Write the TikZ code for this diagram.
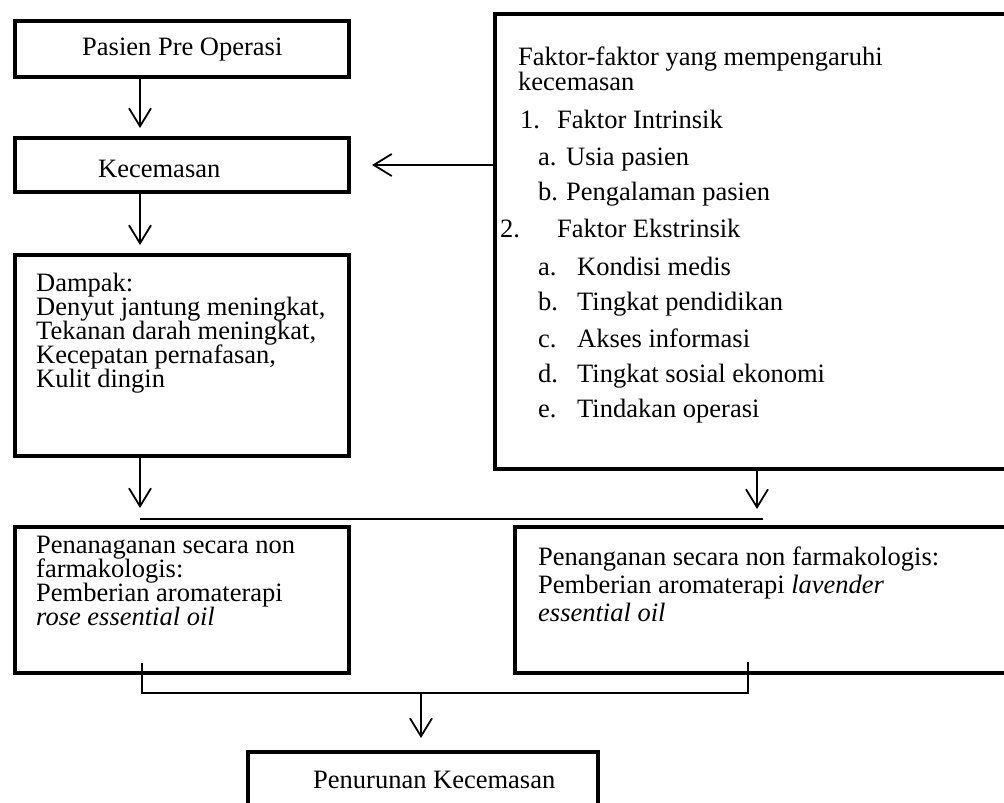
\documentclass[tikz,border=0pt]{standalone}
\usepackage{fontspec}
\setmainfont{Liberation Serif}
\usetikzlibrary{arrows.meta}
\newcommand{\boxtext}[2]{\parbox[t]{460pt}{\baselineskip=#1\lineskiplimit=-40pt\relax #2}}

\begin{document}
\begin{tikzpicture} [x=1pt, y=-1pt,
  box/.style={rectangle, draw, line width=4.5pt, inner sep=0pt, outer sep=0pt, anchor=north west},
  txt/.style={anchor=base west, inner sep=0pt, font=\fontsize{26.5}{24}\selectfont},
  arr/.style={-{Straight Barb[length=18pt,width=22pt]}, line width=1.8pt},
  conn/.style={line width=1.8pt}]
  \useasboundingbox (0,0) rectangle (1004,803);
  \clip (0,0) rectangle (1004,803);
  %% Boxes
  \node [box, minimum width=334pt, minimum height=56pt] (pasien) at (15,21) {};
  \node [box, minimum width=334pt, minimum height=54pt] (cemas) at (15,138) {};
  \node [box, minimum width=334pt, minimum height=201pt] (dampak) at (15,255) {};
  \node [box, minimum width=520pt, minimum height=455pt] (faktor) at (495,14) {};
  \node [box, minimum width=334pt, minimum height=146pt] (rose) at (15,527) {};
  \node [box, minimum width=500pt, minimum height=146pt] (lavender) at (515,527) {};
  \node [box, minimum width=350pt, minimum height=100pt] (turun) at (248,752) {};
  % Texts
  \node [txt] (pasientxt) at (82,55) {Pasien Pre Operasi};
  \node [txt] (cemastxt) at (98,177) {Kecemasan};
  \node [txt] (dampaktxt) at (36,291) {\boxtext{24pt}{Dampak:\\Denyut jantung meningkat,\\Tekanan darah meningkat,\\Kecepatan pernafasan,\\Kulit dingin}};
  \node [txt] (rosetxt) at (36,553) {\boxtext{24.3pt}{Penanaganan secara non\\farmakologis:\\Pemberian aromaterapi\\\textit{rose essential oil}}};
  \node [txt] (lavendertxt) at (538,565) {\boxtext{28pt}{Penanganan secara non farmakologis:\\Pemberian aromaterapi \textit{lavender}\\\textit{essential oil}}};
  \node [txt] (turuntxt) at (313,788) {Penurunan Kecemasan};
  \node [txt] (faktortxt) at (500,65) {\boxtext{25pt}{%
    \hspace*{18pt}Faktor-faktor yang mempengaruhi\\
    \hspace*{18pt}kecemasan\\[13pt]
    \hspace*{20pt}\makebox[37pt][l]{1.}Faktor Intrinsik\\[12pt]
    \hspace*{38pt}\makebox[28pt][l]{a.}Usia pasien\\[10pt]
    \hspace*{38pt}\makebox[28pt][l]{b.}Pengalaman pasien\\[12pt]
    \makebox[57pt][l]{2.}Faktor Ekstrinsik\\[13pt]
    \hspace*{38pt}\makebox[39pt][l]{a.}Kondisi medis\\[10pt]
    \hspace*{38pt}\makebox[39pt][l]{b.}Tingkat pendidikan\\[12pt]
    \hspace*{38pt}\makebox[39pt][l]{c.}Akses informasi\\[10pt]
    \hspace*{38pt}\makebox[39pt][l]{d.}Tingkat sosial ekonomi\\[10pt]
    \hspace*{38pt}\makebox[39pt][l]{e.}Tindakan operasi}};
  % Junctions
  \coordinate (jl) at (140,519);
  \coordinate (jm) at (757,519);
  \coordinate (jr) at (763,519);
  \coordinate (bl) at (142,693);
  \coordinate (bm) at (421,693);
  \coordinate (br) at (748,693);
  % Draw edges
  \draw [arr, shorten >=10pt] ([xshift=125pt]pasien.south west) -- ([xshift=125pt]cemas.north west);
  \draw [arr, shorten >=10pt] ([xshift=125pt]cemas.south west) -- ([xshift=125pt]dampak.north west);
  \draw [arr, shorten >=23pt] (faktor.west |- cemas.east) -- (cemas.east);
  \draw [arr, shorten >=11pt] (dampak.south -| jl) -- (jl);
  \draw [arr, shorten >=10pt] (faktor.south -| jm) -- (jm);
  \draw [conn] (jl) -- (jr);
  \draw [conn] ([yshift=10pt]rose.south -| bl) -- (bl) -- (br) -- ([yshift=11pt]lavender.south -| br);
  \draw [arr, shorten >=14pt] (bm) -- (bm |- turun.north);
\end{tikzpicture}
\end{document}
